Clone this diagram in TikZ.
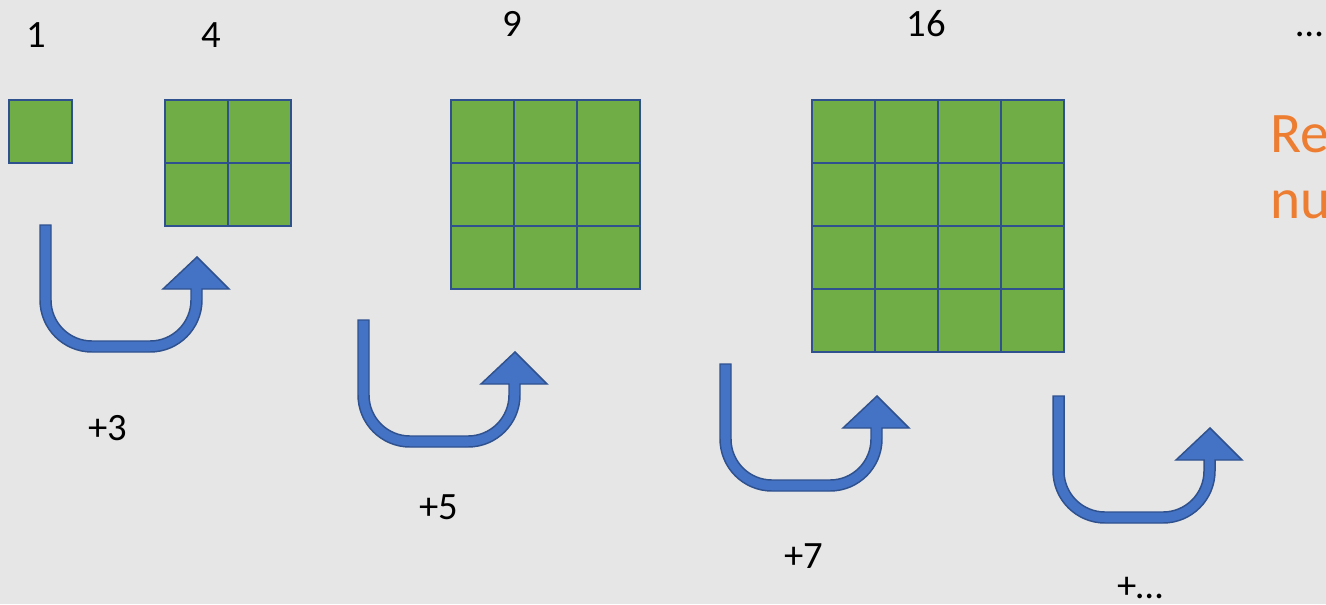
\documentclass[tikz,border=0pt]{standalone}
\usepackage{fontspec}
\setmainfont{Carlito}
\usepackage{tikz}
\definecolor{bggray}{HTML}{E7E6E6}
\definecolor{cellgreen}{HTML}{70AD47}
\definecolor{celledge}{HTML}{2F528F}
\definecolor{arrowblue}{HTML}{4472C4}
\definecolor{noteorange}{HTML}{ED7D31}

\begin{document}
\begin{tikzpicture}[x=0.75pt, y=-0.75pt,
		cell_style/.style={rectangle,draw=celledge,fill=cellgreen,line width=1.5pt,minimum size=47.25pt,inner sep=0pt},
		count_style/.style={anchor=base,inner sep=0pt,font=\fontsize{29}{35}\selectfont},
		note_style/.style={anchor=base west,inner sep=0pt,text=noteorange,font=\fontsize{43}{52}\selectfont},
		arrow_style/.style={draw=celledge,fill=arrowblue,line width=1.1pt},
		uturn/.pic={
			\draw[arrow_style] (0,0) -- (0,75) arc[start angle=180,end angle=90,radius=52]
				-- (110,127) arc[start angle=90,end angle=0,radius=52]
				-- (162,64) -- (189,64) -- (157,32) -- (123,64) -- (151,64)
				-- (151,75) arc[start angle=0,end angle=90,radius=41]
				-- (52,116) arc[start angle=90,end angle=180,radius=41]
				-- (11,0) -- cycle;
		}]

		\fill[bggray] (0,0) rectangle (1326,604);
		\useasboundingbox (0,0) rectangle (1326,604);
		\clip (0,0) rectangle (1326,604);

		% counts on top
		\node[count_style] (t1) at (36,47) {1};
		\node[count_style] (t4) at (211,47) {4};
		\node[count_style] (t9) at (512.5,36) {9};
		\node[count_style] (t16) at (926,36) {16};
		\node[count_style] (tdots) at (1310,36) {…};

		% 1
		\node[cell_style] (a1) at (40.5,131.5) {};

		% 4
		\node[cell_style] (b1) at (196.5,131.5) {};
		\node[cell_style] (b2) at (259.5,131.5) {};
		\node[cell_style] (b3) at (196.5,194.5) {};
		\node[cell_style] (b4) at (259.5,194.5) {};

		% 9
		\node[cell_style] (c1) at (482.5,131.5) {};
		\node[cell_style] (c2) at (545.5,131.5) {};
		\node[cell_style] (c3) at (608.5,131.5) {};
		\node[cell_style] (c4) at (482.5,194.5) {};
		\node[cell_style] (c5) at (545.5,194.5) {};
		\node[cell_style] (c6) at (608.5,194.5) {};
		\node[cell_style] (c7) at (482.5,257.5) {};
		\node[cell_style] (c8) at (545.5,257.5) {};
		\node[cell_style] (c9) at (608.5,257.5) {};

		% 16
		\node[cell_style] (d1) at (843.5,131.5) {};
		\node[cell_style] (d2) at (906.5,131.5) {};
		\node[cell_style] (d3) at (969.5,131.5) {};
		\node[cell_style] (d4) at (1032.5,131.5) {};
		\node[cell_style] (d5) at (843.5,194.5) {};
		\node[cell_style] (d6) at (906.5,194.5) {};
		\node[cell_style] (d7) at (969.5,194.5) {};
		\node[cell_style] (d8) at (1032.5,194.5) {};
		\node[cell_style] (d9) at (843.5,257.5) {};
		\node[cell_style] (d10) at (906.5,257.5) {};
		\node[cell_style] (d11) at (969.5,257.5) {};
		\node[cell_style] (d12) at (1032.5,257.5) {};
		\node[cell_style] (d13) at (843.5,320.5) {};
		\node[cell_style] (d14) at (906.5,320.5) {};
		\node[cell_style] (d15) at (969.5,320.5) {};
		\node[cell_style] (d16) at (1032.5,320.5) {};

		% turn arrows
		\pic at (40,225) {uturn};
		\pic at (358,320) {uturn};
		\pic at (720,364) {uturn};
		\pic at (1053,396) {uturn};

		% steps
		\node[count_style] (s3) at (108,440) {+3};
		\node[count_style] (s5) at (438.5,519) {+5};
		\node[count_style] (s7) at (804,568) {+7};
		\node[count_style] (sdots) at (1140.5,598) {+…};

		% note on the right
		\node[note_style] (r1) at (1270,152) {Re};
		\node[note_style] (r2) at (1270,218) {nu};
		\end{tikzpicture}
\end{document}
